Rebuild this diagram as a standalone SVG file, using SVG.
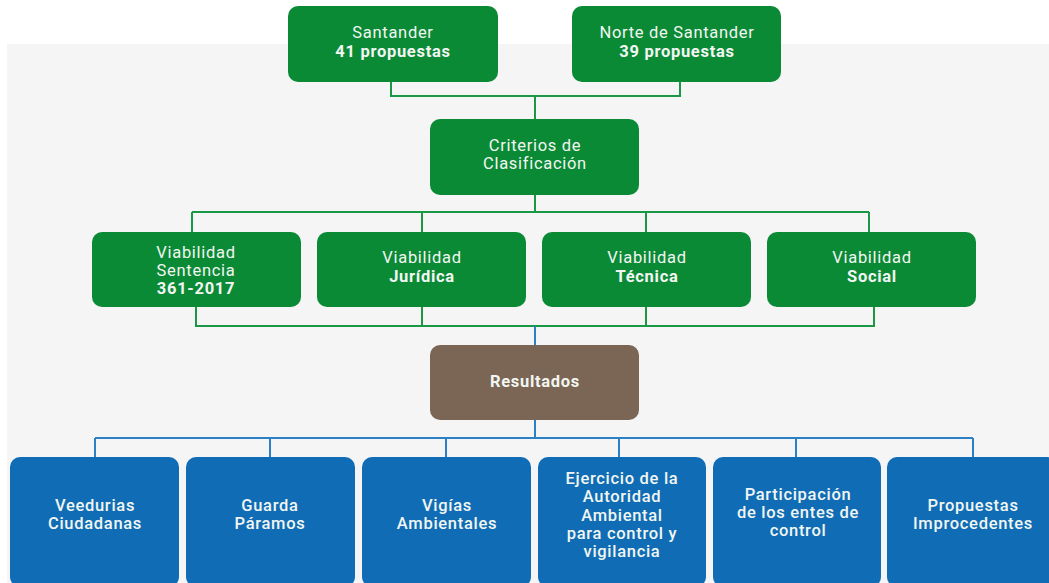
<svg xmlns="http://www.w3.org/2000/svg" width="1049" height="583" viewBox="0 0 1049 583">
<style>
.g{fill:#0b8a36}
.b{fill:#106db5}
.r{fill:#7b6655}
text{font-family:Roboto,"Liberation Sans",sans-serif;font-size:16.5px;letter-spacing:0.7px;fill:#f2f6f2;text-anchor:middle}
.bd{font-weight:700}
.md{font-weight:500}
.lg{fill:none;stroke:#1b9846;stroke-width:2}
.lb{fill:none;stroke:#2b80c6;stroke-width:2}
</style>
<rect x="0" y="0" width="1049" height="583" fill="#ffffff"/>
<rect x="7" y="44" width="1042" height="539" fill="#f5f5f5"/>
<g id="connectors">
<path class="lg" d="M391 82V96H680V82M535 96V119M535 195V212M192 212H869M192 212V232M422 212V232M646 212V232M869 212V232"/>
<path class="lg" d="M196 307V326H874V307M422 307V326M646 307V326"/>
<path class="lb" d="M535 326V345M535 420V438M95 438H973M95 438V457M270 438V457M446 438V457M619 438V457M796 438V457M973 438V457"/>
</g>
<g id="santander"><rect class="g" x="288" y="6" width="210" height="76" rx="10"/><text x="393" y="38">Santander</text><text class="bd" x="393" y="57">41 propuestas</text></g>
<g id="norte"><rect class="g" x="572" y="6" width="209" height="76" rx="10"/><text x="677" y="38">Norte de Santander</text><text class="bd" x="677" y="57">39 propuestas</text></g>
<g id="criterios"><rect class="g" x="430" y="119" width="209" height="76" rx="10"/><text x="535" y="151">Criterios de</text><text x="535" y="169">Clasificación</text></g>
<g id="v1"><rect class="g" x="92" y="232" width="209" height="75" rx="10"/><text x="196" y="258">Viabilidad</text><text x="196" y="276">Sentencia</text><text class="bd" x="196" y="294">361-2017</text></g>
<g id="v2"><rect class="g" x="317" y="232" width="209" height="75" rx="10"/><text x="422" y="263">Viabilidad</text><text class="bd" x="422" y="282">Jurídica</text></g>
<g id="v3"><rect class="g" x="542" y="232" width="209" height="75" rx="10"/><text x="647" y="263">Viabilidad</text><text class="bd" x="647" y="282">Técnica</text></g>
<g id="v4"><rect class="g" x="767" y="232" width="209" height="75" rx="10"/><text x="872" y="263">Viabilidad</text><text class="bd" x="872" y="282">Social</text></g>
<g id="resultados"><rect class="r" x="430" y="345" width="209" height="75" rx="10"/><text class="bd" x="535" y="387">Resultados</text></g>
<g id="r1"><rect class="b" x="10" y="457" width="169" height="130" rx="10"/><text class="md" x="95" y="511">Veedurias</text><text class="md" x="95" y="529">Ciudadanas</text></g>
<g id="r2"><rect class="b" x="186" y="457" width="169" height="130" rx="10"/><text class="md" x="270" y="511">Guarda</text><text class="md" x="270" y="529">Páramos</text></g>
<g id="r3"><rect class="b" x="362" y="457" width="169" height="130" rx="10"/><text class="md" x="447" y="511">Vigías</text><text class="md" x="447" y="529">Ambientales</text></g>
<g id="r4"><rect class="b" x="538" y="457" width="168" height="130" rx="10"/><text class="md" x="622" y="484">Ejercicio de la</text><text class="md" x="622" y="502">Autoridad</text><text class="md" x="622" y="521">Ambiental</text><text class="md" x="622" y="539">para control y</text><text class="md" x="622" y="557">vigilancia</text></g>
<g id="r5"><rect class="b" x="713" y="457" width="168" height="130" rx="10"/><text class="md" x="798" y="500">Participación</text><text class="md" x="798" y="518">de los entes de</text><text class="md" x="798" y="536">control</text></g>
<g id="r6"><rect class="b" x="887" y="457" width="170" height="130" rx="10"/><text class="md" x="973" y="511">Propuestas</text><text class="md" x="973" y="529">Improcedentes</text></g>
</svg>
